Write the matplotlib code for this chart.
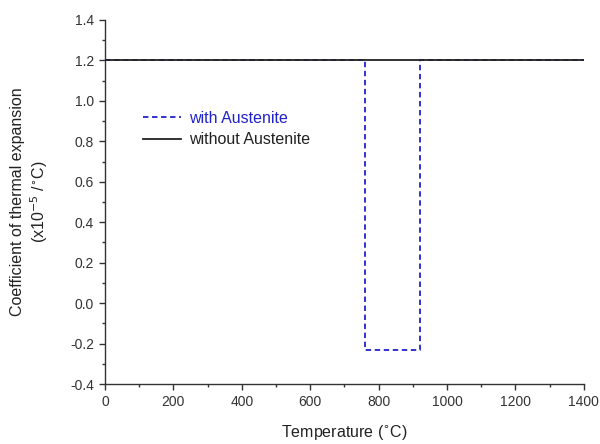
import matplotlib
matplotlib.use("Agg")
import matplotlib.pyplot as plt
from matplotlib.ticker import MultipleLocator

plt.rcParams['font.family'] = ['Liberation Sans', 'DejaVu Sans']

temp_with = [0, 760, 760, 920, 920, 1400]
cte_with = [1.2, 1.2, -0.23, -0.23, 1.2, 1.2]
temp_without = [0, 1400]
cte_without = [1.2, 1.2]

fig = plt.figure(figsize=(6, 4.44), dpi=100)
ax = fig.add_axes([0.175, 0.135, 0.798, 0.82])

ax.plot(temp_with, cte_with, color='#2222cc', linestyle=(0, (3, 2)), lw=1.3,
        label='with Austenite')
ax.plot(temp_without, cte_without, color='#222222', lw=1.3,
        label='without Austenite', zorder=3)

ax.set_xlim(0, 1400)
ax.set_ylim(-0.4, 1.4)
ax.xaxis.set_major_locator(MultipleLocator(200))
ax.xaxis.set_minor_locator(MultipleLocator(100))
ax.yaxis.set_major_locator(MultipleLocator(0.2))
ax.yaxis.set_minor_locator(MultipleLocator(0.1))
ax.yaxis.set_major_formatter(matplotlib.ticker.FormatStrFormatter('%.1f'))
ax.spines['top'].set_visible(False)
ax.spines['right'].set_visible(False)
for s in ['left', 'bottom']:
    ax.spines[s].set_color('#333333')
    ax.spines[s].set_linewidth(1.0)
ax.tick_params(which='major', direction='out', length=4, width=1, color='#333333',
               labelsize=10, labelcolor='#333333', pad=4)
ax.tick_params(which='minor', direction='out', length=2.5, width=1, color='#333333')

ax.set_xlabel('Temperature ($^{\\circ}$C)', fontsize=11.5, color='#222222', labelpad=10)
ax.set_ylabel('Coefficient of thermal expansion\n(x10$^{-5}$ /$^{\\circ}$C)',
              fontsize=11.5, color='#222222', labelpad=14)

leg = ax.legend(loc='upper left', bbox_to_anchor=(0.049, 0.79), frameon=False,
                fontsize=11.5, handlelength=2.4, handletextpad=0.5, labelspacing=0.4)
leg.get_texts()[0].set_color('#2222cc')
leg.get_texts()[1].set_color('#222222')

fig.savefig('out.png', dpi=100)
